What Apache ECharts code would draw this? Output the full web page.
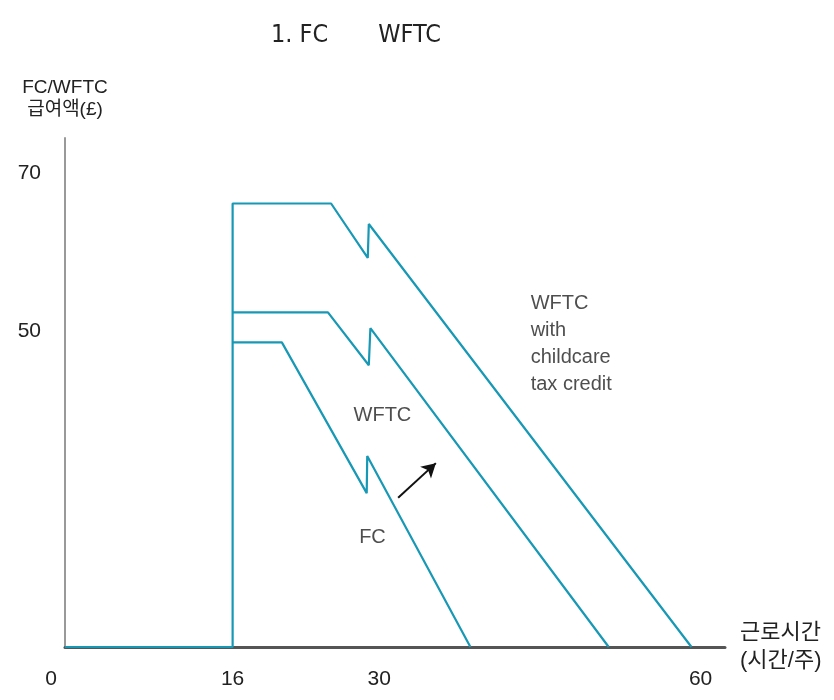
<!DOCTYPE html>
<html><head><meta charset="utf-8">
<script src="https://cdn.jsdelivr.net/npm/echarts@6/dist/echarts.min.js"></script>
<style>html,body{margin:0;padding:0;background:#fff}#c{width:834px;height:700px}</style>
</head><body><div id="c"></div>
<script>
const titleText = '1. FC       WFTC';
const yAxisName = 'FC/WFTC\n급여액(£)';
const xAxisName = '근로시간\n(시간/주)';
const xTickValues = [0, 16, 30, 60];
const yTickValues = [50, 70];
const childcareX = [0, 16, 16, 25.4, 28.9, 29.0, 59.8];
const childcareY = [10, 10, 66.2, 66.2, 59.3, 63.6, 10];
const wftcX = [16, 25.1, 29.0, 29.15, 51.9];
const wftcY = [52.4, 52.4, 45.7, 50.4, 10];
const fcX = [16, 20.7, 28.8, 28.85, 38.7];
const fcY = [48.6, 48.6, 29.5, 34.2, 10];
const arrowFrom = [31.8, 28.9];
const arrowTo = [35.4, 33.3];
const annotationTexts = ['WFTC\nwith\nchildcare\ntax credit', 'WFTC', 'FC'];
const annotationX = [44.45, 30.3, 29.35];
const annotationY = [48.4, 39.4, 23.9];
const annotationAlign = ['left', 'center', 'center'];

const pts = (xs, ys) => xs.map((x, i) => [x, ys[i]]);
const LINE = '#1798b5';
const FONT = "'Liberation Sans', 'Noto Sans CJK KR', sans-serif";
const lineSeries = (name, data) => ({
  name, type: 'line', data, symbol: 'none', animation: false, z: 5,
  lineStyle: { color: LINE, width: 2.2 }
});

const chart = echarts.init(document.getElementById('c'));
chart.setOption({
  animation: false,
  backgroundColor: '#fff',
  title: {
    text: titleText, left: 266, top: 18,
    textStyle: { fontFamily: "'Liberation Sans Narrow', 'DejaVu Sans Condensed', 'Liberation Sans', sans-serif", fontSize: 25, fontWeight: 'normal', color: '#222' }
  },
  grid: { left: 65, right: 109, top: 138, bottom: 53 },
  xAxis: {
    type: 'value', min: 0, max: 63,
    name: xAxisName, nameLocation: 'end', nameGap: 15,
    nameTextStyle: { fontFamily: FONT, fontSize: 22, lineHeight: 28, color: '#222', align: 'left', verticalAlign: 'middle', padding: [44, 0, 0, 0] },
    axisLine: { lineStyle: { color: '#555', width: 3 } },
    axisTick: { show: false },
    splitLine: { show: false },
    axisLabel: {
      customValues: xTickValues, margin: 22, fontFamily: FONT, fontSize: 21, color: '#222',
      formatter: v => v === 0 ? '{z|0}' : (v === 60 ? '{s|60}' : String(v)),
      rich: {
        z: { fontFamily: FONT, fontSize: 21, color: '#222', padding: [0, 28, 0, 0] },
        s: { fontFamily: FONT, fontSize: 21, color: '#222', padding: [0, 0, 0, 14] }
      }
    }
  },
  yAxis: {
    type: 'value', min: 10, max: 74.5,
    name: yAxisName, nameLocation: 'end', nameGap: 17,
    nameTextStyle: { fontFamily: FONT, fontSize: 19, lineHeight: 22, color: '#222', align: 'center' },
    axisLine: { show: true, lineStyle: { color: '#999', width: 2 } },
    axisTick: { show: false },
    splitLine: { show: false },
    axisLabel: { customValues: yTickValues, margin: 24, fontFamily: FONT, fontSize: 21, color: '#222', padding: [8, 0, 0, 0] }
  },
  series: [
    lineSeries('WFTC with childcare tax credit', pts(childcareX, childcareY)),
    lineSeries('WFTC', pts(wftcX, wftcY)),
    lineSeries('FC', pts(fcX, fcY)),
    {
      type: 'scatter', symbolSize: 0, animation: false, silent: true, z: 6,
      data: annotationTexts.map((t, i) => ({
        value: [annotationX[i], annotationY[i]],
        label: { show: true, formatter: t, position: 'inside', align: annotationAlign[i], verticalAlign: 'middle',
                 fontFamily: FONT, fontSize: 20, lineHeight: 27, color: '#222' }
      })),
      markLine: {
        silent: true, animation: false, symbol: ['none', 'arrow'], symbolSize: [12, 14],
        label: { show: false },
        lineStyle: { color: '#111', width: 2, type: 'solid' },
        data: [[{ coord: arrowFrom }, { coord: arrowTo }]]
      }
    }
  ]
});
</script></body></html>
